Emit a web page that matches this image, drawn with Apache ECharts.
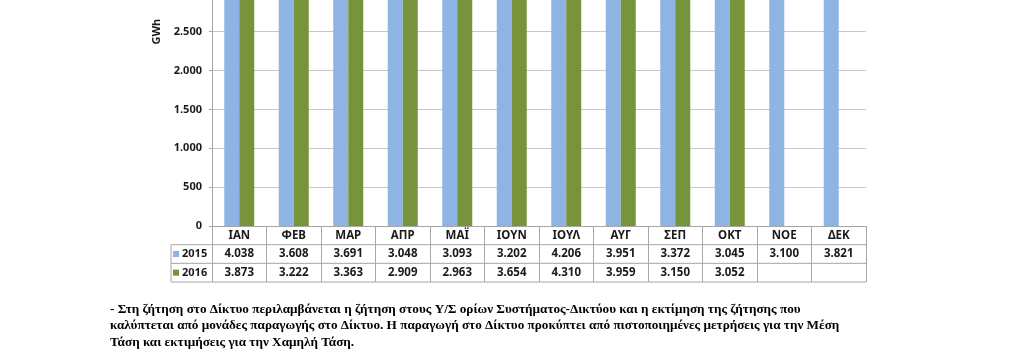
<!DOCTYPE html>
<html>
<head>
<meta charset="utf-8">
<script src="https://cdn.jsdelivr.net/npm/echarts@6/dist/echarts.min.js"></script>
<style>
html,body{margin:0;padding:0;background:#fff;}
#c{width:1023px;height:362px;}
</style>
</head>
<body>
<div id="c"></div>
<script>
// ---- data ----
const categories = ['ΙΑΝ','ΦΕΒ','ΜΑΡ','ΑΠΡ','ΜΑΪ','ΙΟΥΝ','ΙΟΥΛ','ΑΥΓ','ΣΕΠ','ΟΚΤ','ΝΟΕ','ΔΕΚ'];
const values2015 = [4038,3608,3691,3048,3093,3202,4206,3951,3372,3045,3100,3821];
const values2016 = [3873,3222,3363,2909,2963,3654,4310,3959,3150,3052,null,null];
const seriesNames = ['2015','2016'];
const yTicks = {min:0, max:5000, interval:500};
const yName = 'GWh';
const footnote = '- Στη ζήτηση στο Δίκτυο περιλαμβάνεται η ζήτηση στους Υ/Σ ορίων Συστήματος-Δικτύου και η εκτίμηση της ζήτησης που\n' +
  'καλύπτεται από μονάδες παραγωγής στο Δίκτυο. Η παραγωγή στο Δίκτυο προκύπτει από πιστοποιημένες μετρήσεις για την Μέση\n' +
  'Τάση και εκτιμήσεις για την Χαμηλή Τάση.';

// ---- layout ----
const W = 1023, H = 362;
const PLOT_LEFT = 212, PLOT_RIGHT = 866, AXIS_Y = 226;
const PLOT_HEIGHT = 388.7;
const ROW_H = 18.67;
const TABLE_LEFT = 171;
const BLUE = '#8DB4E2', GREEN = '#77933C';
const LINE = '#a6a6a6', GRIDC = '#c8c8c8';
const FONT = '"Noto Sans", "Open Sans", sans-serif';

const fmt = v => (v == null ? '' : String(v).replace(/\B(?=(\d{3})+(?!\d))/g, '.'));

const chart = echarts.init(document.getElementById('c'), null, {renderer:'canvas'});

const tableLines = [1,2,3].map(k => ({
  type:'line', silent:true,
  shape:{x1:TABLE_LEFT, y1:AXIS_Y + k*ROW_H, x2:PLOT_RIGHT, y2:AXIS_Y + k*ROW_H},
  style:{stroke:LINE, lineWidth:1}
}));
tableLines.push({
  type:'line', silent:true,
  shape:{x1:TABLE_LEFT, y1:AXIS_Y + ROW_H, x2:TABLE_LEFT, y2:AXIS_Y + 3*ROW_H},
  style:{stroke:LINE, lineWidth:1}
});

chart.setOption({
  animation:false,
  backgroundColor:'#fff',
  textStyle:{fontFamily:FONT},
  grid:{left:PLOT_LEFT, width:PLOT_RIGHT-PLOT_LEFT, top:AXIS_Y-PLOT_HEIGHT, height:PLOT_HEIGHT,
        containLabel:false, outerBoundsMode:'none'},
  legend:[
    {data:[seriesNames[0]], left:TABLE_LEFT+2, top:AXIS_Y+ROW_H*1.5-7, padding:0, itemWidth:6, itemHeight:6, icon:'rect',
     textStyle:{fontSize:11, fontWeight:'bold', color:'#1a1a1a', lineHeight:14, padding:[0,0,0,-2]}},
    {data:[seriesNames[1]], left:TABLE_LEFT+2, top:AXIS_Y+ROW_H*2.5-7, padding:0, itemWidth:6, itemHeight:6, icon:'rect',
     textStyle:{fontSize:11, fontWeight:'bold', color:'#1a1a1a', lineHeight:14, padding:[0,0,0,-2]}}
  ],
  xAxis:{
    type:'category', data:categories,
    axisLine:{show:true, lineStyle:{color:LINE}},
    axisTick:{show:true, interval:0, length:3*ROW_H, lineStyle:{color:LINE}},
    axisLabel:{
      interval:0, margin:0, fontSize:11.5, fontWeight:'bold', color:'#1a1a1a', lineHeight:ROW_H,
      formatter:(v, i) => v + '\n' + fmt(values2015[i]) + '\n' + fmt(values2016[i])
    }
  },
  yAxis:{
    type:'value', min:yTicks.min, max:yTicks.max, interval:yTicks.interval,
    name:yName, nameLocation:'middle', nameGap:44, nameRotate:90,
    nameTextStyle:{fontSize:11, color:'#1a1a1a', fontWeight:'bold'},
    axisLine:{show:true, lineStyle:{color:LINE}},
    axisTick:{show:true, length:3, lineStyle:{color:LINE}},
    axisLabel:{fontSize:11, color:'#1a1a1a', fontWeight:'bold', margin:10, formatter:fmt},
    splitLine:{show:true, lineStyle:{color:GRIDC}}
  },
  series:[
    {name:seriesNames[0], type:'bar', data:values2015, barWidth:15, barGap:'0%', itemStyle:{color:BLUE}},
    {name:seriesNames[1], type:'bar', data:values2016, barWidth:15, barGap:'0%', itemStyle:{color:GREEN}}
  ],
  graphic:tableLines.concat([{
    type:'text', left:110, top:301, silent:true,
    style:{text:footnote, font:'bold 13.2px "Liberation Serif", serif', lineHeight:16.5, fill:'#000'}
  }])
});
</script>
</body>
</html>
